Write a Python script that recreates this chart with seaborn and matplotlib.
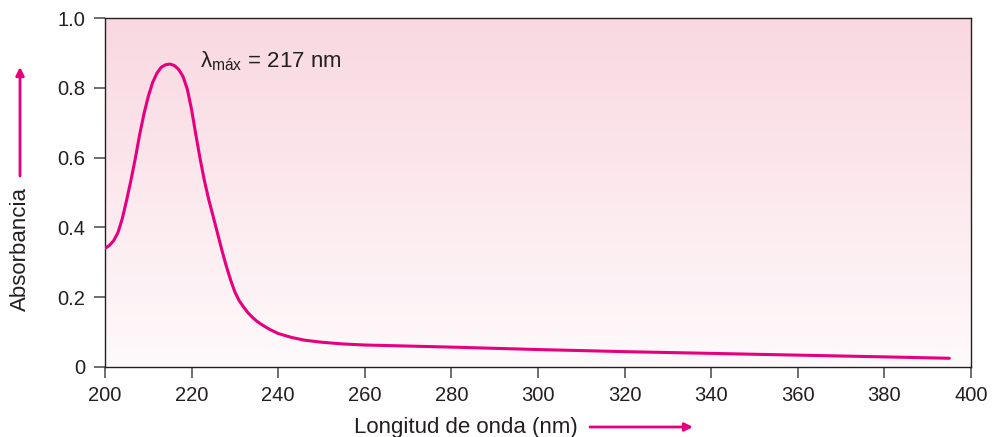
import numpy as np
import pandas as pd
import matplotlib
matplotlib.use('Agg')
import matplotlib.pyplot as plt
import seaborn as sns

# Espectro UV (nm, absorbancia)
longitud_onda = [200, 201, 202, 203, 204, 205, 206, 207, 208, 209, 210, 211, 212, 213,
                 214, 215, 216, 217, 218, 219, 220, 221, 222, 223, 224, 225, 226, 227,
                 228, 229, 230, 231, 232, 233, 234, 235, 236, 238, 240, 243, 246, 250,
                 255, 260, 280, 300, 320, 340, 360, 380, 395]
absorbancia = [0.340, 0.348, 0.362, 0.385, 0.425, 0.478, 0.535, 0.597, 0.665, 0.725,
               0.775, 0.815, 0.842, 0.859, 0.866, 0.868, 0.864, 0.853, 0.833, 0.797,
               0.738, 0.665, 0.595, 0.532, 0.478, 0.431, 0.383, 0.335, 0.290, 0.250,
               0.215, 0.190, 0.172, 0.156, 0.143, 0.132, 0.123, 0.108, 0.096, 0.085,
               0.077, 0.071, 0.066, 0.063, 0.057, 0.050, 0.044, 0.039, 0.034, 0.029, 0.025]

xticks = list(range(200, 401, 20))
yticks = [0, 0.2, 0.4, 0.6, 0.8, 1.0]
ytick_labels = ['0', '0.2', '0.4', '0.6', '0.8', '1.0']

df = pd.DataFrame({'nm': longitud_onda, 'abs': absorbancia})

sns.set_style('ticks')
plt.rcParams['font.family'] = ['Liberation Sans', 'DejaVu Sans']
plt.rcParams['mathtext.fontset'] = 'custom'
plt.rcParams['mathtext.rm'] = 'Liberation Sans'
plt.rcParams['mathtext.it'] = 'Liberation Sans'

magenta = '#e6007e'
gris = '#231f20'

fig = plt.figure(figsize=(9.92, 4.37), dpi=100)
ax = fig.add_axes([0.1058, 0.1602, 0.8730, 0.7986])

# Fondo con degradado rosa (casi blanco abajo, rosa arriba)
grad = np.linspace(0, 1, 256).reshape(-1, 1)
cmap = matplotlib.colors.LinearSegmentedColormap.from_list('rosa', ['#fefafb', '#f9d8e1'])
ax.imshow(grad, aspect='auto', cmap=cmap, origin='lower',
          extent=[200, 400, 0, 1.0], zorder=0)

sns.lineplot(data=df, x='nm', y='abs', ax=ax, color=magenta, linewidth=2.2, zorder=3)

ax.set_xlim(200, 400)
ax.set_ylim(0, 1.0)
ax.set_xticks(xticks)
ax.set_yticks(yticks)
ax.set_yticklabels(ytick_labels)
ax.tick_params(axis='both', direction='out', length=8, width=1.2, color='#555555',
               labelsize=14.5, labelcolor=gris, pad=6)
for s in ax.spines.values():
    s.set_color(gris)
    s.set_linewidth(1.0)

ax.set_xlabel('')
ax.set_ylabel('')

# Etiquetas de los ejes con flechas
fig.text(466 / 992, 1 - 427 / 437, 'Longitud de onda (nm)', ha='center', va='center',
         fontsize=16, color=gris)
fig.text(20 / 992, 1 - 249 / 437, 'Absorbancia', ha='center', va='center',
         rotation=90, fontsize=16, color=gris)
ax.annotate('', xy=(693, 437 - 427), xytext=(590, 437 - 427), xycoords='figure pixels',
            textcoords='figure pixels',
            arrowprops=dict(arrowstyle='-|>', color=magenta, lw=2, mutation_scale=12,
                            shrinkA=0, shrinkB=0))
ax.annotate('', xy=(20, 437 - 67), xytext=(20, 437 - 176), xycoords='figure pixels',
            textcoords='figure pixels',
            arrowprops=dict(arrowstyle='-|>', color=magenta, lw=2, mutation_scale=12,
                            shrinkA=0, shrinkB=0))

ax.text(222, 0.875, r'λ$_{\mathrm{máx}}$ = 217 nm', fontsize=16, color=gris,
        ha='left', va='center')

plt.savefig('out.png', dpi=100)
plt.close()
